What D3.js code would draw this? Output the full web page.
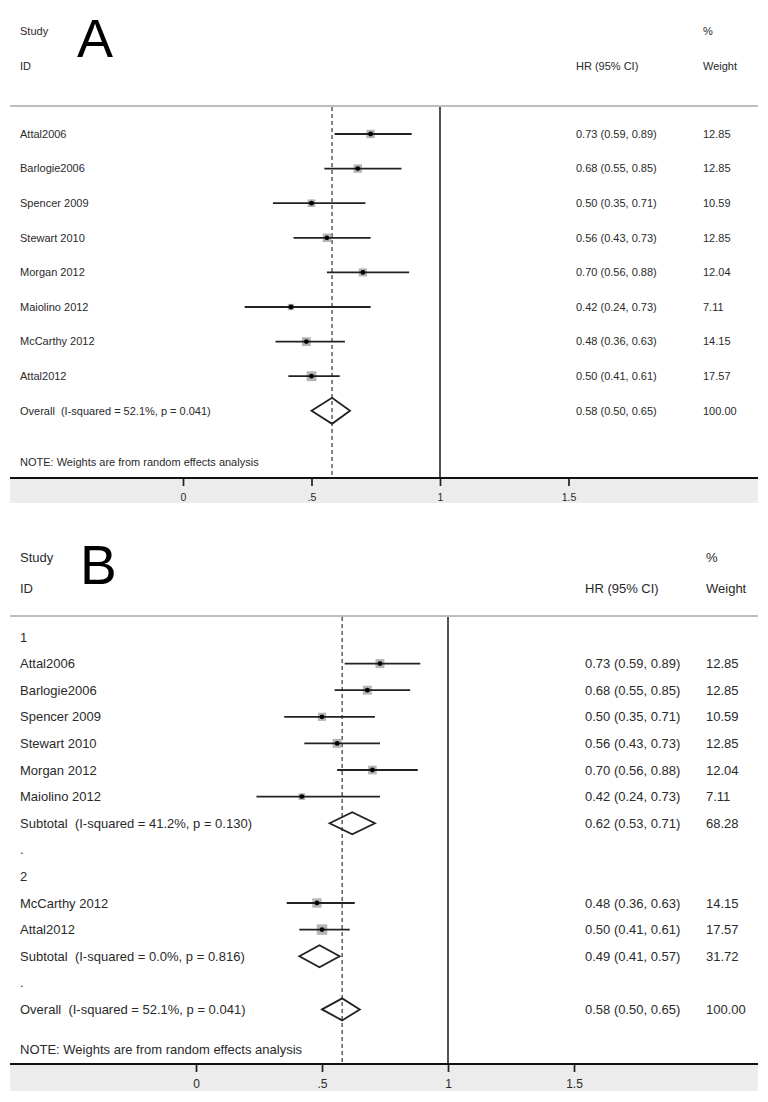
<!DOCTYPE html>
<html><head><meta charset="utf-8">
<script src="https://cdn.jsdelivr.net/npm/d3@7"></script>
<style>
body{margin:0;background:#fff}
svg{display:block}
text{font-family:"Liberation Sans",Arial,sans-serif;fill:#2a2a2a}
</style>
</head><body>
<svg id="c" width="768" height="1102"></svg>
<script>
// ---- data ----
const studies = ["Attal2006","Barlogie2006","Spencer 2009","Stewart 2010","Morgan 2012","Maiolino 2012","McCarthy 2012","Attal2012"];
const hr      = [0.73,0.68,0.50,0.56,0.70,0.42,0.48,0.50];
const lower   = [0.59,0.55,0.35,0.43,0.56,0.24,0.36,0.41];
const upper   = [0.89,0.85,0.71,0.73,0.88,0.73,0.63,0.61];
const weights = [12.85,12.85,10.59,12.85,12.04,7.11,14.15,17.57];
const studyGroup = [1,1,1,1,1,1,2,2];
const groupNames = ["1","2"];
const subtotalLabels = ["Subtotal  (I-squared = 41.2%, p = 0.130)","Subtotal  (I-squared = 0.0%, p = 0.816)"];
const subHR = [0.62,0.49];
const subLower = [0.53,0.41];
const subUpper = [0.71,0.57];
const subWeight = [68.28,31.72];
const overallLabel = "Overall  (I-squared = 52.1%, p = 0.041)";
const overallHR = 0.58, overallLower = 0.50, overallUpper = 0.65, overallWeight = 100.00;
const tickValues = [0,0.5,1,1.5];
const tickLabels = ["0",".5","1","1.5"];
const noteText = "NOTE: Weights are from random effects analysis";

const f2 = d3.format(".2f");
const svg = d3.select("#c");

// rows
const rowsA = studies.map((s,i)=>({type:"study",i}));
rowsA.push({type:"overall"});
const rowsB = [];
groupNames.forEach((gname,gi)=>{
  rowsB.push({type:"group",label:gname});
  studies.forEach((s,i)=>{ if(studyGroup[i]===gi+1) rowsB.push({type:"study",i}); });
  rowsB.push({type:"sub",g:gi});
  rowsB.push({type:"dot"});
});
rowsB.push({type:"overall"});

function drawPanel(cfg, rows){
  const g = svg.append("g");
  const x = d3.scaleLinear().domain([0,1]).range(cfg.xr);
  const y = d3.scaleLinear().domain([0,1]).range([cfg.row0, cfg.row0+cfg.step]);
  const L=10, R=758;

  // header texts
  g.append("text").attr("x",20).attr("y",cfg.h1).attr("dy","0.35em").style("font-size",cfg.fs+"px").text("Study");
  g.append("text").attr("x",20).attr("y",cfg.h2).attr("dy","0.35em").style("font-size",cfg.fs+"px").text("ID");
  g.append("text").attr("x",cfg.wx).attr("y",cfg.h1).attr("dy","0.35em").style("font-size",cfg.fs+"px").text("%");
  g.append("text").attr("x",cfg.wx).attr("y",cfg.h2).attr("dy","0.35em").style("font-size",cfg.fs+"px").text("Weight");
  g.append("text").attr("x",cfg.hx).attr("y",cfg.h2).attr("dy","0.35em").style("font-size",cfg.fs+"px").text("HR (95% CI)");
  g.append("text").attr("x",cfg.lx).attr("y",cfg.ly).style("font-size",cfg.lfs+"px").style("fill","#000").text(cfg.letter);

  // header line
  g.append("line").attr("x1",L).attr("x2",R).attr("y1",cfg.hline).attr("y2",cfg.hline)
    .attr("stroke","#bdbdbd").attr("stroke-width",2);

  // gray band
  g.append("rect").attr("x",L).attr("y",cfg.axisY).attr("width",R-L).attr("height",cfg.bandH).attr("fill","#ececec");

  // reference lines
  g.append("line").attr("x1",x(1)).attr("x2",x(1)).attr("y1",cfg.hline+1).attr("y2",cfg.axisY)
    .attr("stroke","#333").attr("stroke-width",1.7);
  g.append("line").attr("x1",x(overallHR)).attr("x2",x(overallHR)).attr("y1",cfg.hline+1).attr("y2",cfg.axisY)
    .attr("stroke","#444").attr("stroke-width",1.3).attr("stroke-dasharray","4,3");

  // rows
  rows.forEach((r,k)=>{
    const yy = y(k);
    const t = (xx,s)=>g.append("text").attr("x",xx).attr("y",yy).attr("dy","0.35em").style("font-size",cfg.fs+"px").attr("xml:space","preserve").text(s);
    if(r.type==="study"){
      const i=r.i;
      t(20,studies[i]);
      t(cfg.hx, `${f2(hr[i])} (${f2(lower[i])}, ${f2(upper[i])})`);
      t(cfg.wx, f2(weights[i]));
      const side = cfg.k*Math.sqrt(weights[i]);
      g.append("rect").attr("x",x(hr[i])-side/2).attr("y",yy-side/2).attr("width",side).attr("height",side).attr("fill","#b5b5b5");
      g.append("line").attr("x1",x(lower[i])).attr("x2",x(upper[i])).attr("y1",yy).attr("y2",yy).attr("stroke","#222").attr("stroke-width",1.8);
      g.append("circle").attr("cx",x(hr[i])).attr("cy",yy).attr("r",2.4).attr("fill","#000");
    } else if(r.type==="group"){
      t(20,r.label);
    } else if(r.type==="dot"){
      t(20,".");
    } else {
      let lab,est,lo,hi,w;
      if(r.type==="sub"){ lab=subtotalLabels[r.g]; est=subHR[r.g]; lo=subLower[r.g]; hi=subUpper[r.g]; w=subWeight[r.g]; }
      else { lab=overallLabel; est=overallHR; lo=overallLower; hi=overallUpper; w=overallWeight; }
      t(20,lab);
      t(cfg.hx, `${f2(est)} (${f2(lo)}, ${f2(hi)})`);
      t(cfg.wx, f2(w));
      const hh=cfg.dh;
      g.append("path").attr("d",`M${x(lo)},${yy}L${x(est)},${yy-hh}L${x(hi)},${yy}L${x(est)},${yy+hh}Z`)
        .attr("fill","none").attr("stroke","#222").attr("stroke-width",1.8);
    }
  });

  // note
  g.append("text").attr("x",20).attr("y",cfg.noteY).attr("dy","0.35em").style("font-size",cfg.fs+"px").text(noteText);

  // axis
  const ax = g.append("g").attr("transform",`translate(0,${cfg.axisY})`)
    .call(d3.axisBottom(x).tickValues(tickValues).tickFormat((d,i)=>tickLabels[i]).tickSize(cfg.tickLen).tickSizeOuter(0));
  ax.select(".domain").remove();
  ax.selectAll(".tick line").attr("stroke","#222").attr("stroke-width",1.7);
  ax.selectAll(".tick text").attr("y",cfg.tickTextDy).attr("dy","0.35em")
    .style("font-family",'"Liberation Sans",Arial,sans-serif').style("font-size",cfg.tfs+"px").attr("fill","#333");
  g.append("line").attr("x1",L).attr("x2",R).attr("y1",cfg.axisY).attr("y2",cfg.axisY).attr("stroke","#111").attr("stroke-width",2.2);
}

drawPanel({letter:"A", lx:77, ly:57, lfs:54, fs:11, tfs:10.5, xr:[183,440], row0:134, step:34.6,
  h1:31, h2:66, hline:106, hx:576, wx:703, axisY:478, bandH:25, tickLen:8, tickTextDy:19,
  noteY:462, k:2.35, dh:13}, rowsA);

drawPanel({letter:"B", lx:80, ly:584, lfs:55, fs:13, tfs:12, xr:[196,448], row0:637, step:26.6,
  h1:557, h2:588, hline:616, hx:585, wx:706, axisY:1064, bandH:27, tickLen:8, tickTextDy:20,
  noteY:1049, k:2.5, dh:11}, rowsB);
</script>
</body></html>
